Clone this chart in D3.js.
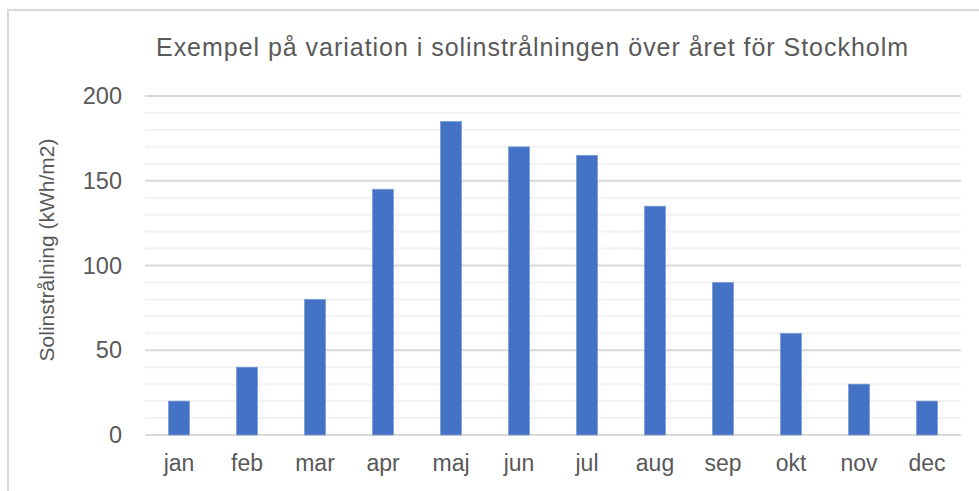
<!DOCTYPE html>
<html>
<head>
<meta charset="utf-8">
<script src="https://cdn.jsdelivr.net/npm/d3@7"></script>
<style>
  body { margin: 0; background: #fff; }
  svg { display: block; font-family: "Liberation Sans", Arial, sans-serif; }
</style>
</head>
<body>
<script>
const months = ['jan', 'feb', 'mar', 'apr', 'maj', 'jun', 'jul', 'aug', 'sep', 'okt', 'nov', 'dec']
const values = [20, 40, 80, 145, 185, 170, 165, 135, 90, 60, 30, 20]
const majorTicks = [0, 50, 100, 150, 200]
const minorTicks = d3.range(0, 201, 10)

const W = 979, H = 491
const m = { top: 96, right: 18, bottom: 56, left: 145 }

const svg = d3.select('body').append('svg').attr('width', W).attr('height', H)

// frame
svg.append('path')
  .attr('d', `M8,${H} V10 H${W}`)
  .attr('fill', 'none')
  .attr('stroke', '#d9d9d9')
  .attr('stroke-width', 2)

const x = d3.scaleBand()
  .domain(months)
  .range([m.left, W - m.right])
  .paddingInner(0.69)
  .paddingOuter(0.345)

const y = d3.scaleLinear()
  .domain([0, 200])
  .range([H - m.bottom, m.top])

// minor grid
svg.append('g').selectAll('line')
  .data(minorTicks.filter(d => d % 50 !== 0))
  .enter().append('line')
    .attr('x1', m.left).attr('x2', W - m.right)
    .attr('y1', d => y(d)).attr('y2', d => y(d))
    .attr('stroke', '#f2f2f2').attr('stroke-width', 2)

// major grid
svg.append('g').selectAll('line')
  .data(majorTicks)
  .enter().append('line')
    .attr('x1', m.left).attr('x2', W - m.right)
    .attr('y1', d => y(d)).attr('y2', d => y(d))
    .attr('stroke', '#d9d9d9').attr('stroke-width', 2)

// bars
svg.append('g').selectAll('rect')
  .data(values)
  .enter().append('rect')
    .attr('x', (d, i) => x(months[i]))
    .attr('y', d => y(d))
    .attr('width', x.bandwidth())
    .attr('height', d => y(0) - y(d))
    .attr('fill', '#4472c4')
    .attr('stroke', '#7b9bd6')
    .attr('stroke-width', 0.7)

// y axis
const yAxis = d3.axisLeft(y).tickValues(majorTicks).tickSize(0).tickPadding(23)
const gy = svg.append('g').attr('transform', `translate(${m.left},0)`).call(yAxis)
gy.select('.domain').remove()
gy.selectAll('text').attr('font-size', 23.5).attr('fill', '#595959').attr('font-family', 'Liberation Sans, Arial, sans-serif')

// x axis
const xAxis = d3.axisBottom(x).tickSize(0).tickPadding(20)
const gx = svg.append('g').attr('transform', `translate(0,${H - m.bottom})`).call(xAxis)
gx.select('.domain').remove()
gx.selectAll('text').attr('font-size', 23).attr('fill', '#595959').attr('font-family', 'Liberation Sans, Arial, sans-serif')

// title
svg.append('text')
  .attr('x', 532).attr('y', 56)
  .attr('text-anchor', 'middle')
  .attr('font-size', 25)
  .attr('fill', '#595959')
  .attr('textLength', 752)
  .attr('lengthAdjust', 'spacing')
  .text('Exempel på variation i solinstrålningen över året för Stockholm')

// y label
svg.append('text')
  .attr('transform', 'translate(54,250) rotate(-90)')
  .attr('text-anchor', 'middle')
  .attr('font-size', 21)
  .attr('fill', '#595959')
  .text('Solinstrålning (kWh/m2)')
</script>
</body>
</html>
